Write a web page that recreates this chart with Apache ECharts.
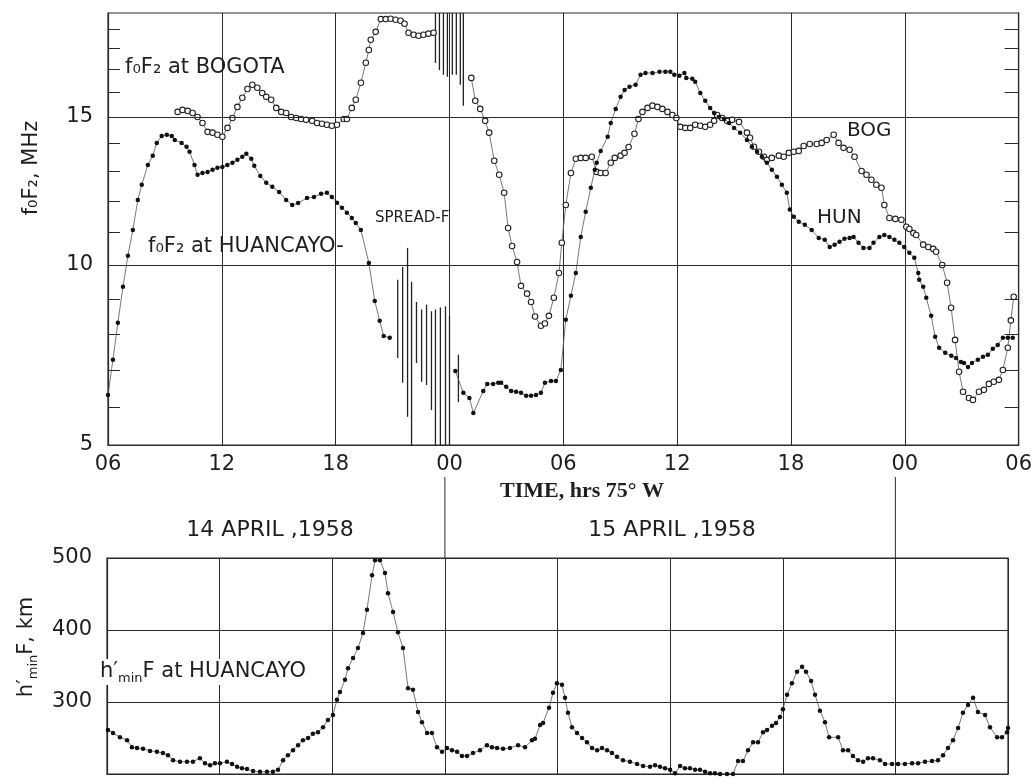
<!DOCTYPE html>
<html><head><meta charset="utf-8">
<script src="https://cdn.jsdelivr.net/npm/echarts@6/dist/echarts.min.js"></script>
<style>html,body{margin:0;background:#fff}#c{width:1035px;height:779px}</style>
</head><body><div id="c"></div><script>
// time in hours from 00h, 14 April 1958 (75° W); foF2 in MHz
const huancayoFoF2Day = [[6.00,6.32],[6.26,7.28],[6.52,8.31],[6.79,9.35],[7.05,10.28],[7.31,11.08],[7.57,12.04],[7.78,12.55],[8.10,13.23],[8.36,13.56],[8.57,14.02],[8.83,14.28],[9.10,14.32],[9.36,14.28],[9.52,14.13],[9.88,14.02],[10.14,13.88],[10.30,13.70],[10.56,13.23],[10.72,12.89],[10.98,12.95],[11.25,12.99],[11.51,13.06],[11.77,13.13],[12.03,13.16],[12.29,13.23],[12.56,13.31],[12.82,13.41],[13.08,13.52],[13.29,13.63],[13.55,13.45],[13.71,13.20],[14.03,12.85],[14.34,12.62],[14.66,12.48],[15.02,12.31],[15.39,12.04],[15.71,11.88],[16.02,11.94],[16.49,12.11],[16.86,12.14],[17.23,12.25],[17.54,12.28],[17.80,12.14],[18.07,11.95],[18.33,11.79],[18.59,11.63],[18.85,11.46],[19.06,11.30],[19.33,11.08],[19.75,10.06],[20.06,8.94],[20.32,8.37],[20.53,7.94],[20.85,7.89]];
const huancayoFoF2Next = [[24.31,6.97],[24.73,6.38],[25.05,6.24],[25.26,5.84],[25.78,6.43],[25.99,6.62],[26.30,6.62],[26.57,6.65],[26.72,6.65],[26.99,6.54],[27.25,6.43],[27.51,6.41],[27.77,6.38],[28.04,6.30],[28.30,6.30],[28.56,6.32],[28.82,6.38],[29.03,6.65],[29.35,6.70],[29.61,6.70],[29.87,7.00],[30.13,8.40],[30.40,9.09],[30.66,9.76],[30.92,10.86],[31.18,11.66],[31.45,12.45],[31.66,13.06],[31.76,13.31],[31.97,13.73],[32.34,14.25],[32.50,14.77],[32.76,15.32],[33.02,15.81],[33.23,16.10],[33.49,16.23],[33.81,16.32],[34.07,16.76],[34.33,16.84],[34.70,16.84],[35.07,16.89],[35.38,16.89],[35.64,16.89],[35.85,16.76],[36.12,16.72],[36.38,16.84],[36.48,16.62],[36.80,16.58],[36.95,16.45],[37.22,15.97],[37.48,15.65],[37.74,15.36],[37.95,15.16],[38.21,15.00],[38.48,14.92],[38.74,14.77],[39.00,14.58],[39.32,14.40],[39.68,14.13],[39.94,13.88],[40.21,13.70],[40.47,13.52],[40.73,13.31],[40.99,13.06],[41.26,12.82],[41.52,12.55],[41.78,12.28],[41.94,11.73],[42.15,11.50],[42.41,11.34],[42.73,11.24],[43.09,11.08],[43.46,10.83],[43.78,10.77],[44.04,10.55],[44.30,10.62],[44.56,10.71],[44.82,10.80],[45.09,10.83],[45.30,10.86],[45.56,10.68],[45.82,10.52],[46.14,10.52],[46.35,10.68],[46.66,10.86],[46.92,10.92],[47.19,10.86],[47.45,10.77],[47.71,10.68],[47.97,10.55],[48.24,10.37],[48.50,10.22],[48.71,9.76],[48.76,9.56],[48.97,9.35],[49.13,9.03],[49.39,8.51],[49.60,7.92],[49.81,7.61],[50.13,7.47],[50.45,7.39],[50.70,7.33],[50.96,7.22],[51.12,7.19],[51.33,7.08],[51.54,7.19],[51.85,7.28],[52.12,7.36],[52.38,7.42],[52.64,7.58],[52.90,7.69],[53.17,7.89],[53.43,7.89],[53.69,7.89]];
const bogotaFoF2Day = [[9.67,15.20],[9.93,15.28],[10.20,15.24],[10.46,15.16],[10.72,15.00],[10.98,14.77],[11.25,14.43],[11.51,14.40],[11.77,14.32],[12.03,14.25],[12.30,14.58],[12.56,14.96],[12.82,15.40],[13.08,15.77],[13.35,16.14],[13.61,16.32],[13.87,16.19],[14.13,15.97],[14.34,15.81],[14.60,15.69],[14.87,15.36],[15.13,15.20],[15.39,15.16],[15.65,15.00],[15.92,14.96],[16.18,14.92],[16.44,14.89],[16.76,14.85],[17.02,14.77],[17.28,14.74],[17.54,14.70],[17.80,14.66],[18.07,14.70],[18.43,14.92],[18.59,14.92],[18.85,15.36],[19.06,15.69],[19.33,16.41],[19.59,17.31],[19.75,17.93],[19.85,18.45],[20.11,18.88],[20.38,19.62],[20.64,19.62],[20.90,19.64],[21.16,19.58],[21.42,19.52],[21.63,19.34],[21.84,18.83],[22.11,18.72],[22.37,18.67],[22.63,18.72],[22.89,18.78],[23.16,18.83]];
const bogotaFoF2Next = [[25.15,16.62],[25.36,15.65],[25.62,15.32],[25.88,14.85],[26.09,14.40],[26.36,13.38],[26.62,12.89],[26.88,12.28],[27.09,11.14],[27.30,10.58],[27.56,10.09],[27.77,9.38],[28.09,9.15],[28.30,8.91],[28.51,8.49],[28.82,8.23],[29.03,8.29],[29.24,8.51],[29.50,9.03],[29.77,9.76],[29.92,10.68],[30.13,11.88],[30.40,12.95],[30.66,13.45],[30.92,13.48],[31.18,13.48],[31.50,13.52],[31.76,12.99],[31.97,12.95],[32.23,12.95],[32.50,13.31],[32.71,13.48],[33.02,13.56],[33.23,13.66],[33.44,13.87],[33.75,14.36],[33.96,14.92],[34.17,15.20],[34.44,15.36],[34.70,15.45],[34.96,15.40],[35.22,15.32],[35.49,15.20],[35.75,15.08],[35.96,14.96],[36.17,14.62],[36.43,14.58],[36.69,14.58],[36.95,14.70],[37.22,14.66],[37.48,14.62],[37.74,14.70],[37.95,14.85],[38.11,15.08],[38.37,14.96],[38.63,14.85],[38.90,14.89],[39.26,14.81],[39.68,14.40],[39.84,14.21],[40.05,13.88],[40.31,13.70],[40.57,13.52],[40.73,13.41],[40.99,13.48],[41.36,13.56],[41.62,13.52],[41.89,13.66],[42.15,13.70],[42.41,13.73],[42.67,13.91],[42.99,13.98],[43.36,13.98],[43.62,14.02],[43.88,14.13],[44.25,14.32],[44.51,14.02],[44.77,13.84],[45.09,13.77],[45.35,13.52],[45.72,13.02],[45.98,12.89],[46.24,12.72],[46.50,12.55],[46.77,12.45],[46.92,11.88],[47.19,11.46],[47.50,11.43],[47.82,11.40],[48.08,11.18],[48.24,11.11],[48.45,10.98],[48.60,10.92],[48.97,10.62],[49.24,10.55],[49.50,10.49],[49.65,10.40],[49.97,10.00],[50.23,9.47],[50.44,8.74],[50.65,7.83],[50.86,6.95],[51.07,6.41],[51.38,6.24],[51.59,6.19],[51.91,6.41],[52.17,6.46],[52.43,6.62],[52.69,6.68],[52.96,6.73],[53.17,7.00],[53.43,7.61],[53.59,8.38],[53.74,9.06]];
// spread-F frequency ranges: [time, low MHz, high MHz]
const huancayoSpreadF = [[21.27,7.33,9.56],[21.53,6.65,9.94],[21.79,5.74,10.52],[22.00,5.0,9.50],[22.26,7.19,8.91],[22.53,6.68,8.69],[22.79,6.59,8.83],[23.05,5.92,8.64],[23.26,5.0,8.69],[23.52,5.0,8.75],[23.79,5.0,8.78],[24.00,5.0,8.50],[24.47,6.13,7.42]];
const bogotaSpreadF = [[23.26,17.30,20],[23.47,16.97,20],[23.68,16.76,20],[23.89,16.67,20],[24.15,16.76,20],[24.36,16.76,20],[24.57,16.32,20],[24.73,15.45,20]];
// h'minF at Huancayo, km
const huancayoHminF = [[6.05,261],[6.32,257],[6.69,251],[7.07,247],[7.33,237],[7.60,236],[7.92,235],[8.29,232],[8.66,231],[8.98,229],[9.25,226],[9.52,219],[9.89,217],[10.26,217],[10.58,217],[10.95,222],[11.22,215],[11.49,212],[11.75,215],[12.02,215],[12.39,217],[12.66,214],[12.93,210],[13.19,208],[13.46,207],[13.78,204],[14.15,203],[14.52,203],[14.84,203],[15.11,206],[15.38,219],[15.64,226],[15.91,233],[16.18,240],[16.44,247],[16.71,250],[16.97,256],[17.24,258],[17.51,265],[17.77,275],[18.04,282],[18.25,303],[18.41,314],[18.68,331],[18.84,347],[19.11,361],[19.37,375],[19.64,396],[19.85,428],[20.12,476],[20.28,497],[20.54,497],[20.81,479],[20.97,451],[21.24,425],[21.50,397],[21.77,375],[22.04,319],[22.30,317],[22.57,286],[22.78,272],[23.05,257],[23.31,257],[23.58,237],[23.85,231],[24.11,236],[24.38,233],[24.65,231],[24.91,225],[25.18,225],[25.50,229],[25.87,233],[26.24,240],[26.51,237],[26.78,236],[27.10,235],[27.47,236],[27.90,240],[28.27,237],[28.64,247],[28.80,249],[29.07,268],[29.23,271],[29.55,292],[29.76,313],[29.97,326],[30.24,324],[30.40,306],[30.56,285],[30.77,265],[31.04,257],[31.31,250],[31.57,244],[31.84,236],[32.11,233],[32.37,236],[32.64,233],[32.90,229],[33.17,224],[33.49,219],[33.86,217],[34.24,214],[34.56,211],[34.93,210],[35.20,212],[35.46,210],[35.73,208],[36.00,206],[36.26,201],[36.53,211],[36.79,208],[37.06,208],[37.33,206],[37.59,206],[37.86,203],[38.13,201],[38.39,201],[38.66,200],[39.03,200],[39.35,200],[39.62,218],[39.88,218],[40.15,233],[40.42,244],[40.68,244],[40.95,258],[41.16,261],[41.43,267],[41.64,271],[41.85,279],[42.01,290],[42.23,310],[42.49,326],[42.76,342],[43.03,349],[43.24,342],[43.51,329],[43.72,310],[43.98,288],[44.25,272],[44.47,251],[44.95,251],[45.21,233],[45.48,233],[45.74,225],[46.01,219],[46.28,217],[46.54,222],[46.81,222],[47.18,219],[47.45,214],[47.82,214],[48.14,214],[48.51,214],[48.89,215],[49.21,215],[49.58,217],[49.95,218],[50.27,219],[50.54,226],[50.80,236],[51.07,247],[51.34,264],[51.60,285],[51.87,296],[52.14,306],[52.40,286],[52.78,282],[53.04,265],[53.42,251],[53.68,251],[53.95,258],[54.00,264]];
const fLabelTicks = [5, 10, 15];
const fMinorTicks = [6, 7, 8, 9, 11, 12, 13, 14, 16, 17, 18, 19];
const fGridValues = [10, 15];
const timeRange = [6, 54];
const hRange = [200, 500];

// the figure's frequency axis is compressed toward high values
function fScale(f) { const x = f - 5; return 38.4 * x - 0.4 * x * x - 0.016 * x * x * x; }
function fInverse(u) { let lo = 5, hi = 20; for (let i = 0; i < 50; i++) { const m = (lo + hi) / 2; if (fScale(m) < u) lo = m; else hi = m; } return (lo + hi) / 2; }
const mapF = arr => arr.map(([t, f]) => [t, fScale(f)]);
const mapRange = arr => arr.map(([t, lo, hi]) => [t, fScale(lo), fScale(hi)]);

const FONT = 'DejaVu Sans';
const INK = '#1e1e1e';
const chart = echarts.init(document.getElementById('c'), null, { renderer: 'canvas' });

const timeLabel = v => String(((v % 24) + 24) % 24).padStart(2, '0');
const axisLine = { show: true, lineStyle: { color: '#2a2a2a', width: 1.2 } };
const splitLine = { show: true, lineStyle: { color: '#2a2a2a', width: 1, type: 'solid' } };

function rangeRender(params, api) {
  const p1 = api.coord([api.value(0), api.value(1)]);
  const p2 = api.coord([api.value(0), api.value(2)]);
  return { type: 'line', shape: { x1: p1[0], y1: p1[1], x2: p2[0], y2: p2[1] }, style: { stroke: '#222', lineWidth: 1.3 } };
}

const dotLine = (data, xi, yi, filled, size) => ({
  type: 'line', xAxisIndex: xi, yAxisIndex: yi, data: data,
  symbol: 'circle', symbolSize: size, showSymbol: true,
  lineStyle: { color: '#555', width: 0.8 },
  itemStyle: filled ? { color: '#111' } : { color: '#fff', borderColor: '#222', borderWidth: 1.1 },
  z: filled ? 4 : 3, silent: true
});

const subRich = { sub: { fontSize: 13, fontFamily: FONT, fill: INK, verticalAlign: 'bottom', lineHeight: 14 } };

const option = {
  animation: false,
  backgroundColor: '#ffffff',
  grid: [
    { left: 108, top: 13, width: 915, height: 432, show: true, borderColor: '#2a2a2a', borderWidth: 1.2, containLabel: false },
    { left: 107, top: 558, width: 901, height: 216, show: true, borderColor: '#2a2a2a', borderWidth: 1.2, containLabel: false }
  ],
  xAxis: [
    { type: 'value', gridIndex: 0, min: timeRange[0], max: timeRange[1], interval: 6, axisLine: axisLine, axisTick: { show: false },
      axisLabel: { formatter: timeLabel, fontSize: 21, fontFamily: FONT, color: INK, margin: 9 }, splitLine: splitLine },
    { type: 'value', gridIndex: 1, min: timeRange[0], max: timeRange[1], interval: 6, axisLine: axisLine, axisTick: { show: false },
      axisLabel: { show: false }, splitLine: splitLine }
  ],
  yAxis: [
    { type: 'value', gridIndex: 0, position: 'left', min: 0, max: fScale(20), axisLine: axisLine,
      axisTick: { show: true, inside: true, length: 12, customValues: fMinorTicks.map(fScale), lineStyle: { color: '#2a2a2a', width: 1 } },
      axisLabel: { customValues: fLabelTicks.map(fScale), formatter: v => String(Math.round(fInverse(v))), fontSize: 21, fontFamily: FONT, color: INK, margin: 15 },
      splitLine: { show: false } },
    { type: 'value', gridIndex: 0, position: 'right', min: 0, max: fScale(20), axisLine: axisLine,
      axisTick: { show: true, inside: true, length: 14, customValues: fMinorTicks.map(fScale), lineStyle: { color: '#2a2a2a', width: 1 } },
      axisLabel: { show: false }, splitLine: { show: false } },
    { type: 'value', gridIndex: 1, min: hRange[0], max: hRange[1], interval: 100, axisLine: axisLine, axisTick: { show: false },
      axisLabel: { showMinLabel: false, fontSize: 21, fontFamily: FONT, color: INK, margin: 15 }, splitLine: splitLine }
  ],
  series: [
    Object.assign(dotLine(mapF(huancayoFoF2Day), 0, 0, true, 4.5), {
      markLine: { silent: true, symbol: 'none', label: { show: false }, lineStyle: { color: '#2a2a2a', width: 1, type: 'solid' },
        data: fGridValues.map(f => ({ yAxis: fScale(f) })) }
    }),
    dotLine(mapF(huancayoFoF2Next), 0, 0, true, 4.5),
    dotLine(mapF(bogotaFoF2Day), 0, 0, false, 5.5),
    dotLine(mapF(bogotaFoF2Next), 0, 0, false, 5.5),
    { type: 'custom', xAxisIndex: 0, yAxisIndex: 0, data: mapRange(huancayoSpreadF), renderItem: rangeRender, encode: { x: 0, y: [1, 2] }, silent: true },
    { type: 'custom', xAxisIndex: 0, yAxisIndex: 0, data: mapRange(bogotaSpreadF), renderItem: rangeRender, encode: { x: 0, y: [1, 2] }, silent: true },
    dotLine(huancayoHminF, 1, 2, true, 4.5)
  ],
  graphic: [
    { id: 'tBog', type: 'text', left: 125, top: 57, style: { text: 'f₀F₂ at BOGOTA', font: '21px "DejaVu Sans"', fill: INK } },
    { id: 'tHua', type: 'text', left: 148, top: 236, style: { text: 'f₀F₂ at HUANCAYO-', font: '21px "DejaVu Sans"', fill: INK } },
    { id: 'tSpread', type: 'text', left: 375, top: 211, style: { text: 'SPREAD-F', font: '15px "DejaVu Sans"', fill: INK } },
    { id: 'tBOG', type: 'text', left: 847, top: 121, style: { text: 'BOG', font: '20px "DejaVu Sans"', fill: INK } },
    { id: 'tHUN', type: 'text', left: 817, top: 208, style: { text: 'HUN', font: '20px "DejaVu Sans"', fill: INK } },
    { id: 'tTime', type: 'text', x: 582, y: 491, style: { text: 'TIME, hrs 75° W', font: 'bold 22px "Liberation Serif"', fill: INK, align: 'center', verticalAlign: 'middle' } },
    { id: 'tD14', type: 'text', x: 270, y: 530, style: { text: '14 APRIL ,1958', font: '22px "DejaVu Sans"', fill: INK, align: 'center', verticalAlign: 'middle' } },
    { id: 'tD15', type: 'text', x: 672, y: 530, style: { text: '15 APRIL ,1958', font: '22px "DejaVu Sans"', fill: INK, align: 'center', verticalAlign: 'middle' } },
    { id: 'tYf', type: 'text', x: 32, y: 168, rotation: Math.PI / 2, style: { text: 'f₀F₂, MHz', font: '21px "DejaVu Sans"', fill: INK, align: 'center', verticalAlign: 'middle' } },
    { id: 'tYh', type: 'text', x: 27, y: 647, rotation: Math.PI / 2, style: { text: 'h′{sub|min}F, km', font: '21px "DejaVu Sans"', fill: INK, align: 'center', verticalAlign: 'middle', lineHeight: 26, rich: subRich } },
    { id: 'tHmin', type: 'text', x: 100, y: 672, z: 10, style: { text: 'h′{sub|min}F at HUANCAYO', font: '21px "DejaVu Sans"', fill: INK, align: 'left', verticalAlign: 'middle', lineHeight: 26,
        backgroundColor: '#fff', padding: [0, 2, 0, 0], rich: subRich } }
  ]
};
chart.setOption(option);

// day dividers: the 00h gridlines of the lower panel extend up between the date captions
const xMid = chart.convertToPixel({ xAxisIndex: 1 }, 24);
const xEnd = chart.convertToPixel({ xAxisIndex: 1 }, 48);
const yTop = chart.convertToPixel({ yAxisIndex: 2 }, hRange[1]);
chart.setOption({ graphic: [
  { id: 'div1', type: 'line', shape: { x1: xMid, y1: 477, x2: xMid, y2: yTop }, style: { stroke: '#2a2a2a', lineWidth: 1 } },
  { id: 'div2', type: 'line', shape: { x1: xEnd, y1: 477, x2: xEnd, y2: yTop }, style: { stroke: '#2a2a2a', lineWidth: 1 } }
] });
</script></body></html>
